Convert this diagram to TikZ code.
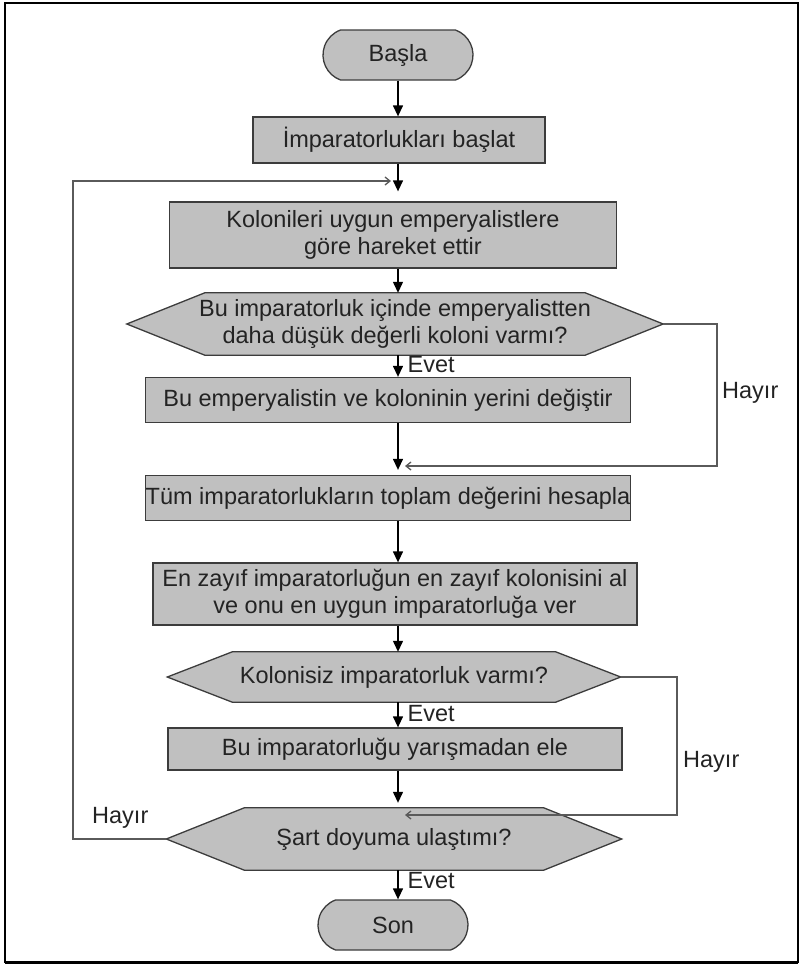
\documentclass[tikz,border=0pt]{standalone}
\usepackage{fontspec}
\setmainfont{Liberation Sans}
\usetikzlibrary{shapes.misc,arrows.meta,calc,backgrounds}
\definecolor{boxgray}{RGB}{192,192,192}
\definecolor{edgegray}{RGB}{60,60,60}
\definecolor{loopgray}{RGB}{90,90,90}
\definecolor{inkgray}{RGB}{35,35,35}
% hexagonal decision outline drawn behind a named rectangular node
\newcommand\hexbg[2]{%
  \begin{pgfonlayer}{background}
    \draw[hexline] (#1.west) -- ([xshift=#2]#1.north west) -- ([xshift=-#2]#1.north east)
      -- (#1.east) -- ([xshift=-#2]#1.south east) -- ([xshift=#2]#1.south west) -- cycle;
  \end{pgfonlayer}}
\begin{document}
\begin{tikzpicture}[x=1pt,y=-1pt,
  font=\fontsize{23.5}{27}\selectfont,
  box/.style={draw=edgegray, fill=boxgray, line width=1.3pt, inner sep=0pt,
              align=center, text=inkgray},
  term/.style={box, rounded rectangle, rounded rectangle arc length=140,
               minimum width=150pt, minimum height=50pt},
  hexa/.style={inner sep=0pt, align=center, text=inkgray},
  hexline/.style={draw=edgegray, fill=boxgray, line width=1.3pt},
  flow/.style={draw=black, line width=1.3pt, -{Triangle[length=11pt,width=10pt]}},
  back/.style={draw=loopgray, line width=1.3pt, -{Straight Barb[length=5pt,width=8pt]}},
  lbl/.style={inner sep=0pt, text=inkgray}
]
\useasboundingbox (0,0) rectangle (803,967);
% frame
\draw[line width=1.5pt] (5,3) rectangle (798,962);
\draw[line width=3pt] (5,962) -- (798,962);

% main column
\node[term] (start) at (398,55) {Başla};
\node[box, minimum width=292pt, minimum height=46pt] (init) at (399,140) {İmparatorlukları başlat};
\node[box, minimum width=447pt, minimum height=66pt] (move) at (393,235)
  {Kolonileri uygun emperyalistlere\\göre hareket ettir};
\node[hexa, minimum width=536pt, minimum height=62pt] (q1) at (395,324)
  {Bu imparatorluk içinde emperyalistten\\daha düşük değerli koloni varmı?};
\hexbg{q1}{78pt}
\node[box, minimum width=485pt, minimum height=45pt] (swap) at (388,400)
  {Bu emperyalistin ve koloninin yerini değiştir};
\node[box, minimum width=483pt, minimum height=45pt] (total) at (388,498)
  {Tüm imparatorlukların toplam değerini hesapla};
\node[box, minimum width=484pt, minimum height=62pt] (weak) at (395,594)
  {En zayıf imparatorluğun en zayıf kolonisini al\\ve onu en uygun imparatorluğa ver};
\node[hexa, minimum width=453pt, minimum height=50pt] (q2) at (394,677)
  {Kolonisiz imparatorluk varmı?};
\hexbg{q2}{65pt}
\node[box, minimum width=454pt, minimum height=42pt] (elim) at (395,749)
  {Bu imparatorluğu yarışmadan ele};
\node[hexa, minimum width=455pt, minimum height=62pt] (q3) at (394,839)
  {Şart doyuma ulaştımı?};
\hexbg{q3}{78pt}
\node[term] (stop) at (393,925) {Son};

% guide coordinates
\coordinate (ax) at (398,0);
\coordinate (j1) at (391,181);
\coordinate (j2) at (405,466);
\coordinate (j3) at (405,815);
\coordinate (lx) at (73,0);
\coordinate (r1) at (717,0);
\coordinate (r2) at (677,0);

% forward flow
\draw[flow] (start.south -| ax) -- (init.north -| ax);
\draw[flow, shorten >=10pt] (init.south -| ax) -- (move.north -| ax);
\draw[flow] (move.south -| ax) -- (q1.north -| ax);
\draw[flow] (q1.south -| ax) -- (swap.north -| ax) node[lbl, pos=0.45, right=9pt] {Evet};
\draw[flow, shorten >=5pt] (swap.south -| ax) -- (total.north -| ax);
\draw[flow] (total.south -| ax) -- (weak.north -| ax);
\draw[flow] (weak.south -| ax) -- (q2.north -| ax);
\draw[flow] (q2.south -| ax) -- (elim.north -| ax) node[lbl, pos=0.45, right=9pt] {Evet};
\draw[flow, shorten >=5pt] (elim.south -| ax) -- (q3.north -| ax);
\draw[flow] (q3.south -| ax) -- (stop.north -| ax) node[lbl, pos=0.35, right=9pt] {Evet};

% "Hayır" branches
\draw[back] (q1.east) -- (q1.east -| r1) -- (r1 |- j2) -- (j2);
\node[lbl, anchor=west] (h1) at (722,393) {Hayır};
\draw[back] (q2.east) -- (q2.east -| r2) -- (r2 |- j3) -- (j3);
\node[lbl, anchor=west] (h2) at (683,762) {Hayır};
\draw[back] (q3.west) -- (q3.west -| lx) -- (lx |- j1) -- (j1);
\node[lbl, anchor=west] (h3) at (92,818) {Hayır};
\end{tikzpicture}
\end{document}
